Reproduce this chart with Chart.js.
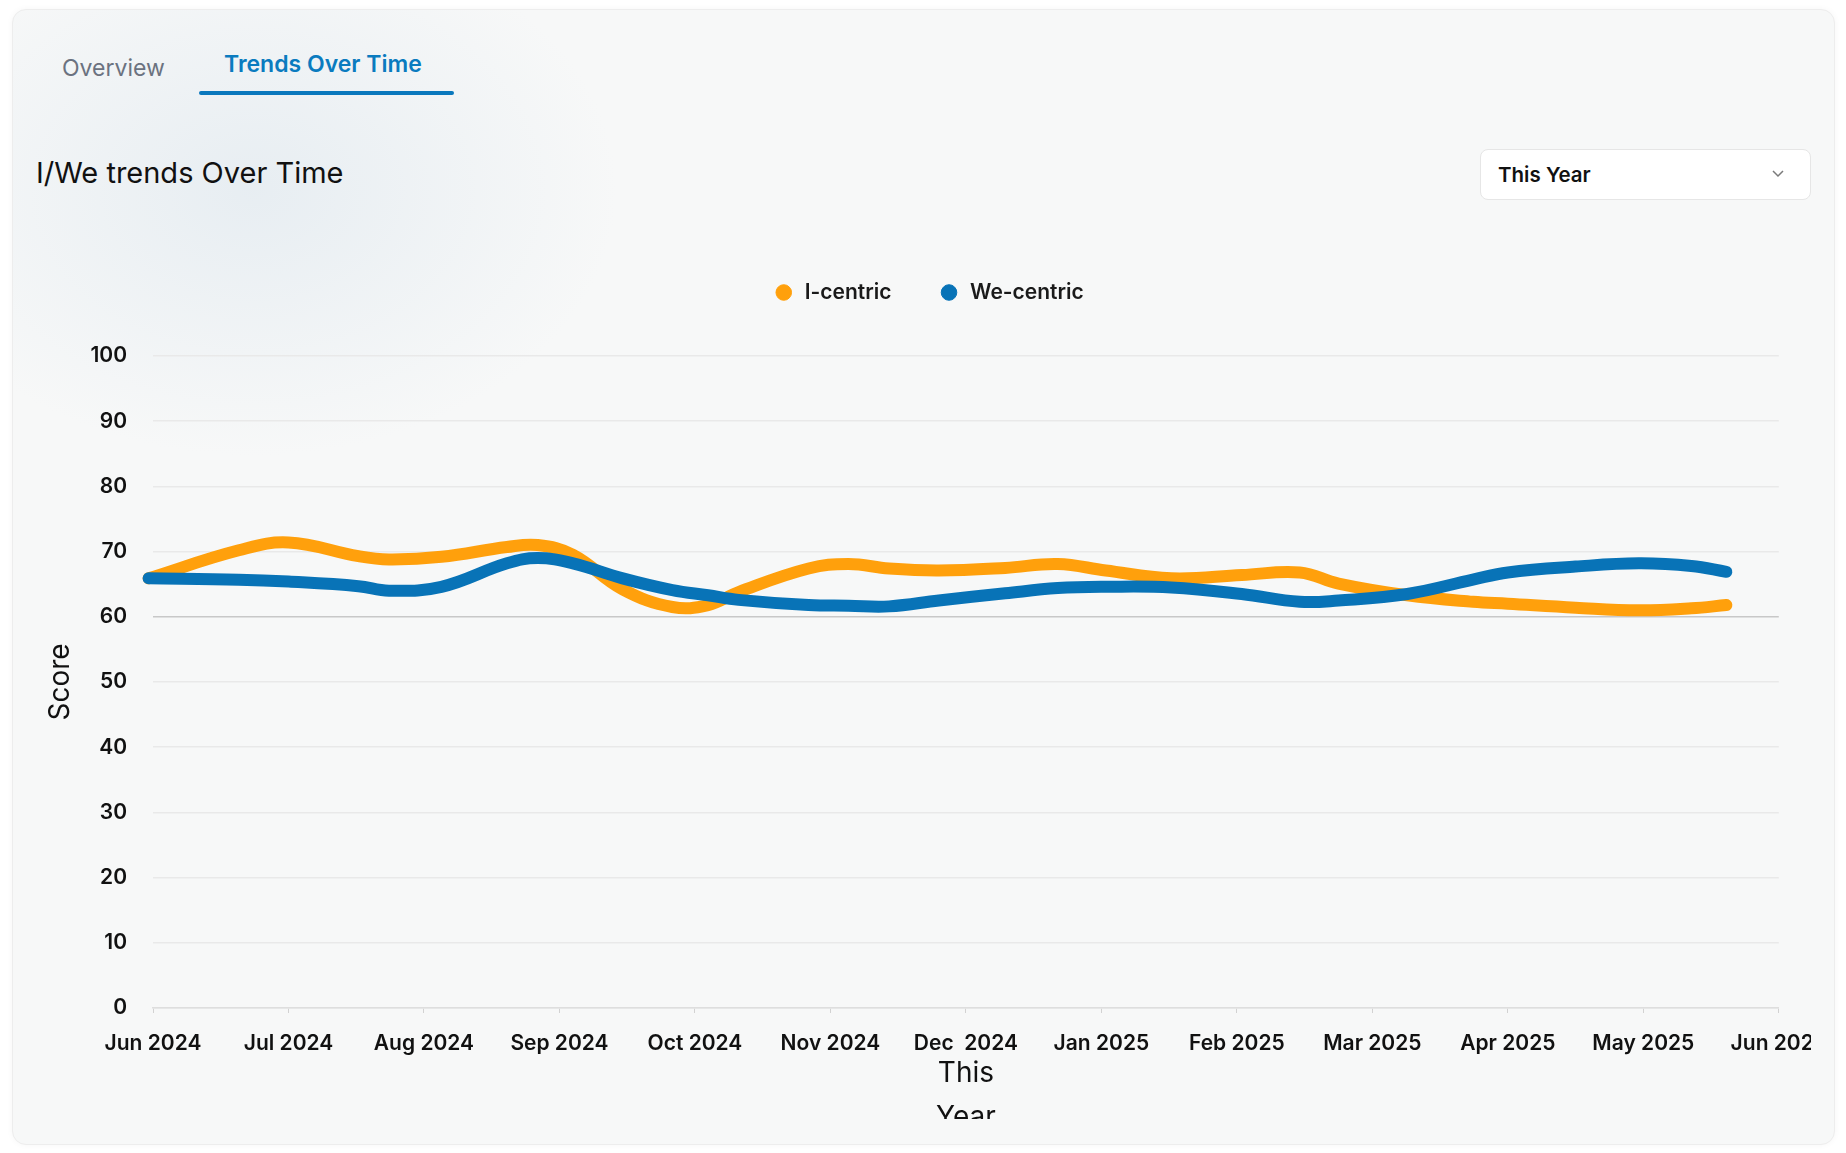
<!DOCTYPE html>
<html lang="en">
<head>
<meta charset="utf-8">
<title>I/We trends Over Time</title>
<script src="https://cdn.jsdelivr.net/npm/chart.js@4.4.1/dist/chart.umd.min.js"></script>
<style>
    html, body {
        margin: 0;
        padding: 0;
        background: #ffffff;
        font-family: 'Inter', 'Roboto', sans-serif;
    }
    .card {
        position: absolute;
        left: 12px;
        top: 9px;
        width: 1821px;
        height: 1134px;
        border: 1px solid #ededed;
        border-radius: 14px;
        background:
            radial-gradient(ellipse 520px 380px at 240px 180px, rgba(226, 234, 240, 0.75), rgba(226, 234, 240, 0) 70%),
            #f7f8f8;
        box-shadow: 0 0 6px rgba(0, 0, 0, 0.04);
    }
    .tab {
        position: absolute;
        font-size: 23px;
        line-height: 28px;
        white-space: nowrap;
    }
    .tab.overview { left: 49px; top: 44px; color: #6b7280; }
    .tab.active { left: 211px; top: 40px; color: #0a7bbf; font-weight: 600; }
    .tab-line {
        position: absolute;
        left: 186px;
        top: 81px;
        width: 255px;
        height: 4px;
        background: #0a78bd;
        border-radius: 2px;
    }
    .title {
        position: absolute;
        left: 23px;
        top: 145px;
        font-size: 29px;
        line-height: 36px;
        color: #111111;
    }
    .select {
        position: absolute;
        left: 1467px;
        top: 139px;
        width: 329px;
        height: 49px;
        background: #ffffff;
        border: 1px solid #e6e6e6;
        border-radius: 8px;
        box-sizing: content-box;
    }
    .select span {
        position: absolute;
        left: 17px;
        top: 12px;
        font-size: 20.5px;
        line-height: 25px;
        font-weight: 600;
        color: #111111;
    }
    .select svg {
        position: absolute;
        left: 290px;
        top: 19px;
    }
    .chart-clip {
        position: absolute;
        left: 12px;
        top: 235px;
        width: 1799px;
        height: 884px;
        overflow: hidden;
    }
    .chart-box {
        position: relative;
        width: 1833px;
        height: 909px;
    }
</style>
</head>
<body>
<div class="card">
    <div class="tab overview">Overview</div>
    <div class="tab active">Trends Over Time</div>
    <div class="tab-line"></div>
    <div class="title">I/We trends Over Time</div>
    <div class="select">
        <span>This Year</span>
        <svg width="14" height="10" viewBox="0 0 14 10"><path d="M2 2 L7 7 L12 2" fill="none" stroke="#7a7a7a" stroke-width="1.5"/></svg>
    </div>
</div>
<div class="chart-clip">
    <div class="chart-box"><canvas id="trendChart"></canvas></div>
</div>
<script>
const monthLabels = ['Jun 2024', 'Jul 2024', 'Aug 2024', 'Sep 2024', 'Oct 2024', 'Nov 2024', 'Dec  2024',
    'Jan 2025', 'Feb 2025', 'Mar 2025', 'Apr 2025', 'May 2025', 'Jun 2025'];

const pointDates = ['2024-05-31', '2024-06-20', '2024-07-01', '2024-07-17', '2024-07-24', '2024-08-05',
    '2024-08-20', '2024-08-27', '2024-09-04', '2024-09-15', '2024-09-26', '2024-10-04', '2024-10-11',
    '2024-10-27', '2024-11-05', '2024-11-14', '2024-11-25', '2024-12-10', '2024-12-22', '2025-01-02',
    '2025-01-17', '2025-02-02', '2025-02-14', '2025-02-22', '2025-03-09', '2025-03-24', '2025-04-01',
    '2025-04-16', '2025-04-30', '2025-05-12', '2025-05-20'];

const iCentric = [65.9, 70.2, 71.4, 69.3, 68.8, 69.2, 70.7, 71.0, 69.5, 64.2, 61.5, 61.8, 63.8, 67.4, 68.1,
    67.4, 67.1, 67.5, 68.1, 67.1, 65.9, 66.4, 66.8, 65.1, 63.3, 62.3, 62.0, 61.4, 61.0, 61.3, 61.8];

const weCentric = [65.9, 65.7, 65.4, 64.7, 64.0, 64.6, 68.2, 69.0, 68.2, 65.9, 64.1, 63.3, 62.6, 61.8, 61.7,
    61.6, 62.5, 63.6, 64.4, 64.6, 64.5, 63.5, 62.3, 62.5, 63.5, 65.7, 66.8, 67.7, 68.2, 67.8, 66.9];

const yTicks = [0, 10, 20, 30, 40, 50, 60, 70, 80, 90, 100];

// months since Jun 2024, fractional by day
function monthPos(dateStr) {
    const [y, m, d] = dateStr.split('-').map(Number);
    const daysInMonth = new Date(y, m, 0).getDate();
    return (y - 2024) * 12 + (m - 1) - 5 + (d - 1) / daysInMonth;
}

const toPoints = (values) => values.map((v, i) => ({ x: monthPos(pointDates[i]), y: v }));

Chart.defaults.font.family = "'Inter', 'Roboto', sans-serif";
Chart.defaults.color = '#111111';

// push the plot a bit further below the legend
const legendGap = {
    id: 'legendGap',
    beforeInit(chart) {
        const fit = chart.legend.fit;
        chart.legend.fit = function () {
            fit.bind(chart.legend)();
            this.height += 43;
        };
    }
};

new Chart(document.getElementById('trendChart').getContext('2d'), {
    type: 'line',
    data: {
        datasets: [
            {
                label: 'I-centric',
                data: toPoints(iCentric),
                borderColor: '#ffa00c',
                backgroundColor: '#ffa00c',
                order: 2,
            },
            {
                label: 'We-centric',
                data: toPoints(weCentric),
                borderColor: '#0873b7',
                backgroundColor: '#0873b7',
                order: 1,
            }
        ]
    },
    options: {
        responsive: true,
        maintainAspectRatio: false,
        animation: false,
        layout: { padding: 0 },
        elements: {
            line: {
                borderWidth: 12,
                tension: 0.4,
                borderCapStyle: 'round',
                borderJoinStyle: 'round',
                fill: false,
            },
            point: { radius: 0, hoverRadius: 0 }
        },
        datasets: { line: { clip: false } },
        scales: {
            x: {
                type: 'linear',
                min: 0,
                max: monthLabels.length - 1,
                afterFit: (scale) => { scale.height = 136; },
                grid: {
                    drawOnChartArea: false,
                    drawTicks: true,
                    tickLength: 5,
                    color: '#d2d2d2',
                },
                border: { display: true, color: '#dedede', width: 1.5 },
                ticks: {
                    stepSize: 1,
                    autoSkip: false,
                    maxRotation: 0,
                    padding: 18,
                    color: '#111111',
                    font: { size: 21, weight: '600' },
                    callback: (v) => monthLabels[v],
                },
                title: {
                    display: true,
                    text: ['This', 'Year'],
                    color: '#111111',
                    font: { size: 28, weight: '400', lineHeight: 1.57 },
                    padding: { top: 4, bottom: 4 },
                }
            },
            y: {
                min: 0,
                max: 100,
                afterFit: (scale) => {
                    scale.width = 141;
                    scale.paddingTop = 0;
                    scale.paddingBottom = 0;
                },
                afterBuildTicks: (scale) => {
                    scale.ticks = yTicks.map(v => ({ value: v }));
                },
                grid: {
                    drawTicks: false,
                    lineWidth: 1.5,
                    color: (ctx) => ctx.tick && ctx.tick.value === 60 ? '#c8c8c8' : '#e9e9e9',
                },
                border: { display: false },
                ticks: {
                    padding: 26,
                    color: '#111111',
                    font: { size: 21, weight: '600' },
                },
                title: {
                    display: true,
                    text: 'Score',
                    color: '#111111',
                    font: { size: 28, weight: '400' },
                    padding: { top: 32, bottom: 0 },
                }
            }
        },
        plugins: {
            legend: {
                position: 'top',
                labels: {
                    usePointStyle: true,
                    pointStyle: 'circle',
                    boxWidth: 21,
                    boxHeight: 11,
                    padding: 47,
                    color: '#1a1a1a',
                    font: { size: 21, weight: '600' },
                    sort: (a, b) => a.datasetIndex - b.datasetIndex,
                }
            },
            tooltip: { enabled: false }
        }
    },
    plugins: [legendGap]
});
</script>
</body>
</html>
